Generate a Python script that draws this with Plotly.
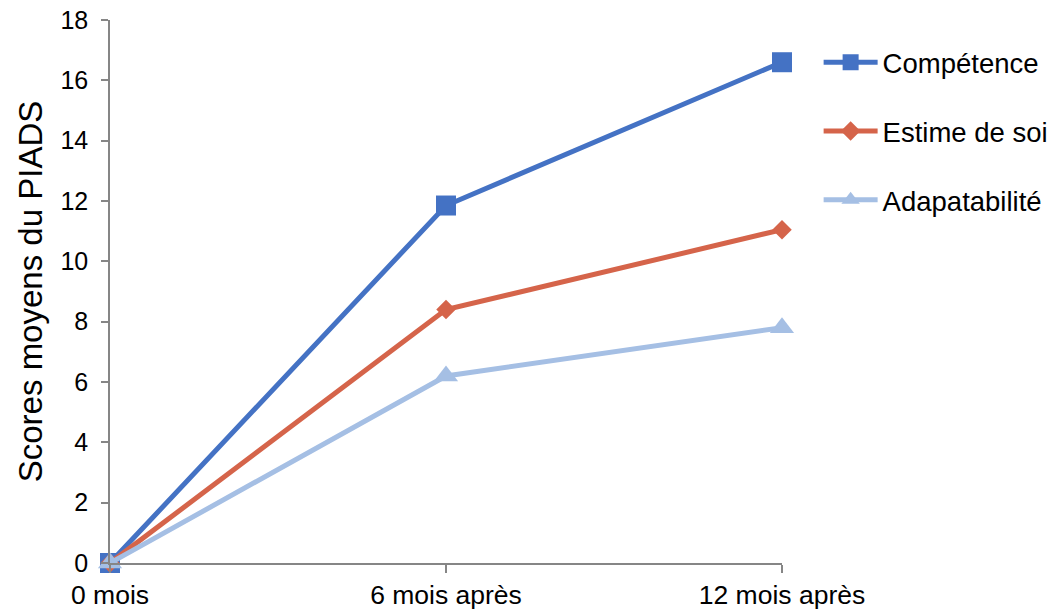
import plotly.graph_objects as go

# Mean PIADS subscale scores over follow-up
periods = ["0 mois", "6 mois après", "12 mois après"]
competence = [0, 11.85, 16.6]
estime_de_soi = [0, 8.4, 11.05]
adaptabilite = [0, 6.2, 7.8]
y_ticks = [0, 2, 4, 6, 8, 10, 12, 14, 16, 18]

x_pos = list(range(len(periods)))

FONT = "Liberation Sans, Arial, sans-serif"
AXIS_GREY = "#868686"

series = [
    ("Compétence", competence, "#4472C4", "square", 20),
    ("Estime de soi", estime_de_soi, "#D5644A", "diamond", 15),
    ("Adapatabilité", adaptabilite, "#A5BFE4", "triangle-up", 21),
]

fig = go.Figure()
for i, (name, vals, color, symbol, msize) in enumerate(series):
    fig.add_trace(go.Scatter(
        x=x_pos, y=vals, name=name, mode="lines+markers",
        line=dict(color=color, width=5),
        marker=dict(symbol=symbol, size=msize, color=color),
        cliponaxis=False, legendgroup=f"g{i}",
    ))

fig.update_layout(
    width=1055, height=609,
    margin=dict(l=110, r=273, t=20, b=46, autoexpand=False),
    paper_bgcolor="white", plot_bgcolor="white",
    font=dict(family=FONT, size=26, color="#000000"),
    showlegend=True,
    legend=dict(
        x=1.0545, y=0.967, xanchor="left", yanchor="top",
        traceorder="grouped", tracegroupgap=30,
        font=dict(family=FONT, size=27.5, color="#000000"),
        itemwidth=54, bgcolor="rgba(0,0,0,0)",
    ),
    xaxis=dict(
        range=[0, 2], tickvals=x_pos, ticktext=periods,
        showline=True, linecolor=AXIS_GREY, linewidth=1.5,
        ticks="outside", ticklen=8, tickcolor=AXIS_GREY, tickwidth=1.5,
        showgrid=False, zeroline=False, automargin=False,
        ticklabelstandoff=-1,
        tickfont=dict(family=FONT, size=26.5),
    ),
    yaxis=dict(
        range=[0, 18], tickvals=y_ticks,
        showline=True, linecolor=AXIS_GREY, linewidth=1.5,
        ticks="outside", ticklen=7, tickcolor=AXIS_GREY, tickwidth=1.5,
        showgrid=False, zeroline=False, automargin=False,
        ticklabelstandoff=8,
        tickfont=dict(family=FONT, size=25),
        title=dict(text="Scores moyens du PIADS", font=dict(family=FONT, size=33), standoff=8),
    ),
)

fig.write_html("out.html")
